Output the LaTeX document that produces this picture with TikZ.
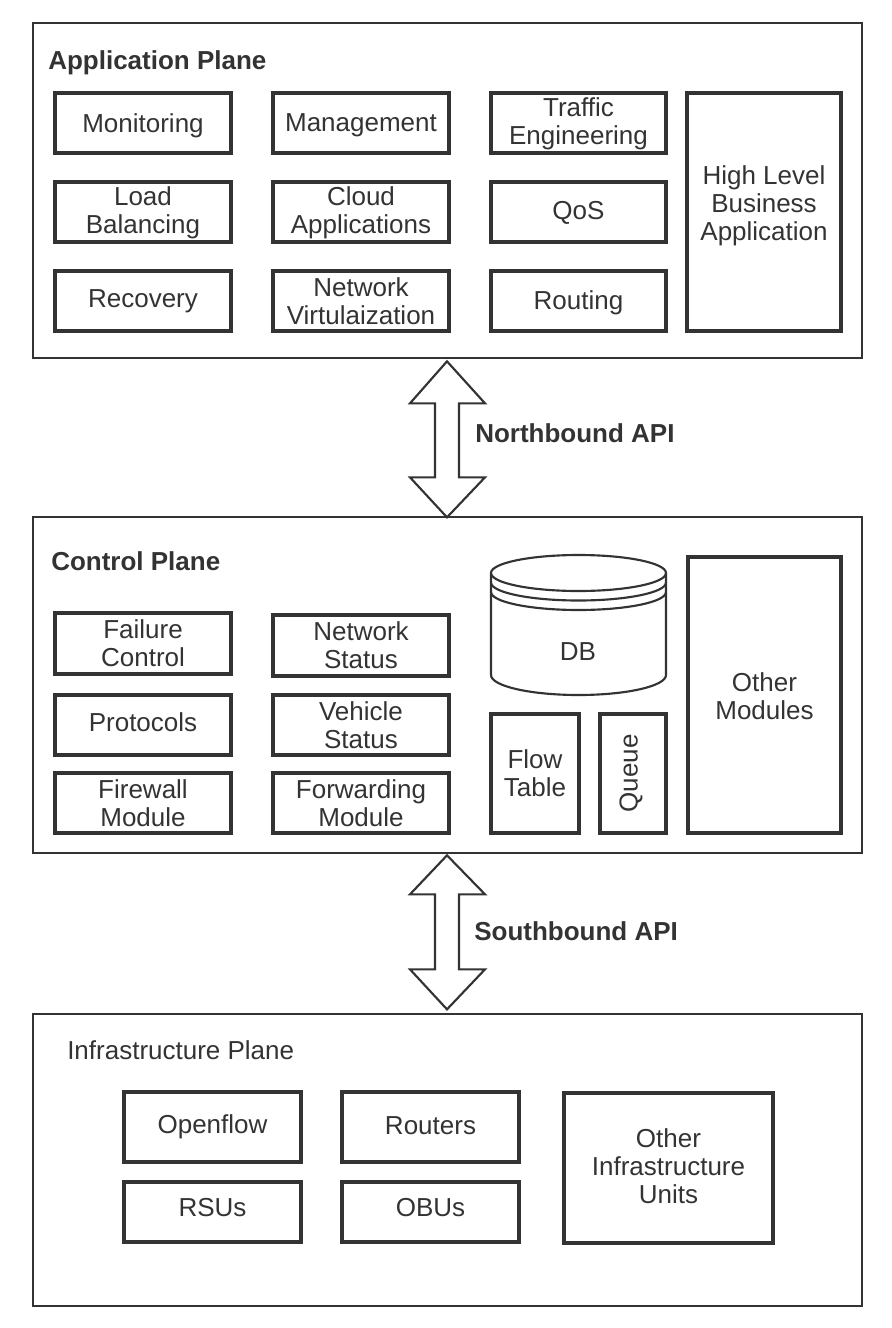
\documentclass[tikz,border=0pt]{standalone}
\usepackage{fontspec}
\setmainfont{Liberation Sans}
\usetikzlibrary{calc}
\definecolor{ink}{RGB}{51,51,51}
\newcommand\mkbox[8]{%
  \node[#1, minimum width={(#5-#3)*0.75pt}, minimum height={(#6-#4)*0.75pt},
        label={[txt, yshift=#8]center:{#7}}] (#2) at ({(#3+#5)/2},{(#4+#6)/2}) {};}
\begin{document}
\begin{tikzpicture}[x=0.75pt,y=-0.75pt,
  txt/.style={font=\fontsize{19.5}{21}\selectfont, text=ink, align=center, inner sep=0pt},
  ttl/.style={font=\fontsize{19.5}{21}\selectfont\bfseries, text=ink, inner sep=0pt, anchor=base west},
  plane/.style={draw=ink, line width=2pt, inner sep=0pt},
  modbox/.style={draw=ink, line width=2.3pt, inner sep=0pt},
  arr/.style={draw=ink, line width=1.6pt, line join=miter},
  cyl/.style={draw=ink, line width=1.6pt}]
\useasboundingbox (0,0) rectangle (892,1328);

% ---------- Application plane ----------
\mkbox{plane}{app}{33}{23}{862}{358}{}{0pt}
\node[ttl] (appt) at (48,69) {Application Plane};
\mkbox{modbox}{mon}{55}{93}{231}{153}{Monitoring}{-2pt}
\mkbox{modbox}{lb}{55}{182}{231}{242}{Load\\Balancing}{-0.5pt}
\mkbox{modbox}{rec}{55}{271}{231}{331}{Recovery}{-0.5pt}
\mkbox{modbox}{man}{273}{93}{449}{153}{Management}{-2pt}
\mkbox{modbox}{cloud}{273}{182}{449}{242}{Cloud\\Applications}{-0.5pt}
\mkbox{modbox}{nv}{273}{271}{449}{331}{Network\\Virtulaization}{0pt}
\mkbox{modbox}{te}{491}{93}{666}{153}{Traffic\\Engineering}{-0.5pt}
\mkbox{modbox}{qos}{491}{182}{666}{242}{QoS}{-1pt}
\mkbox{modbox}{rout}{491}{271}{666}{331}{Routing}{-1pt}
\mkbox{modbox}{hl}{687}{93}{841}{331}{High Level\\Business\\Application}{5pt}

% ---------- Control plane ----------
\mkbox{plane}{ctl}{33}{517}{862}{853}{}{0pt}
\node[ttl] (ctlt) at (51,570) {Control Plane};
\mkbox{modbox}{fc}{55}{613}{231}{674}{Failure\\Control}{0pt}
\mkbox{modbox}{ns}{273}{615}{449}{676}{Network\\Status}{0pt}
\mkbox{modbox}{prot}{55}{695}{231}{755}{Protocols}{2pt}
\mkbox{modbox}{vs}{273}{695}{449}{755}{Vehicle\\Status}{0pt}
\mkbox{modbox}{fw}{55}{773}{231}{833}{Firewall\\Module}{0pt}
\mkbox{modbox}{fwd}{273}{773}{449}{833}{Forwarding\\Module}{0pt}
\mkbox{modbox}{ft}{491}{714}{579}{833}{Flow\\Table}{0pt}
\node[modbox, minimum width={66*0.75pt}, minimum height={119*0.75pt},
      label={[txt, rotate=90, xshift=0pt, yshift=1.5pt]center:Queue}] (queue) at (633,773.5) {};
\mkbox{modbox}{om}{688}{557}{841}{833}{Other\\Modules}{-1pt}

% DB cylinder
\draw[cyl] (491,573) -- (491,675) arc[start angle=180, end angle=360, x radius=65.625pt, y radius=15pt] -- (666,573);
\draw[cyl] (578.5,573) ellipse [x radius=65.625pt, y radius=13.5pt];
\draw[cyl] (491,582.5) arc[start angle=180, end angle=360, x radius=65.625pt, y radius=13.5pt];
\draw[cyl] (491,592) arc[start angle=180, end angle=360, x radius=65.625pt, y radius=13.5pt];
\node[txt] (db) at (578,652) {DB};

% ---------- Infrastructure plane ----------
\mkbox{plane}{inf}{33}{1014}{862}{1306}{}{0pt}
\node[txt, anchor=base west] (inft) at (67,1059) {Infrastructure Plane};
\mkbox{modbox}{of}{124}{1092}{301}{1162}{Openflow}{0.5pt}
\mkbox{modbox}{rt}{342}{1092}{519}{1162}{Routers}{1pt}
\mkbox{modbox}{rsu}{124}{1182}{301}{1242}{RSUs}{3.5pt}
\mkbox{modbox}{obu}{342}{1182}{519}{1242}{OBUs}{3pt}
\mkbox{modbox}{oiu}{564}{1093}{773}{1243}{Other\\Infrastructure\\Units}{1pt}

% ---------- APIs (double arrows) ----------
\path (app.south) ++(-0.5,2) coordinate (nt);
\draw[arr] (nt) -- ++(38,42) -- ++(-26,0) -- ++(0,74) -- ++(26,0) -- ++(-38,40)
  -- ++(-37,-40) -- ++(25,0) -- ++(0,-74) -- ++(-25,0) -- cycle;
\node[ttl] (nb) at (475,442) {Northbound API};

\path (ctl.south) ++(-0.5,1) coordinate (st);
\draw[arr] (st) -- ++(38,39) -- ++(-26,0) -- ++(0,75) -- ++(26,0) -- ++(-38,40)
  -- ++(-37,-40) -- ++(25,0) -- ++(0,-75) -- ++(-25,0) -- cycle;
\node[ttl] (sb) at (474,940) {Southbound API};
\end{tikzpicture}
\end{document}
